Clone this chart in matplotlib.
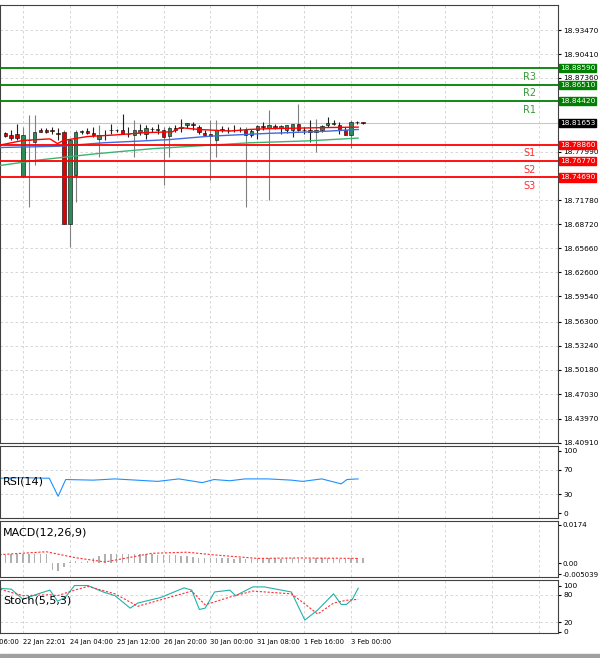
import numpy as np
import matplotlib
matplotlib.use("Agg")
import matplotlib.pyplot as plt

# ---- candles (H1) ----
opens = [18.8036, 18.8006, 18.8028, 18.7483, 18.7942, 18.7922, 18.8079, 18.8079, 18.8070, 18.8036,
         18.8049, 18.6880, 18.7496, 18.8049, 18.8062, 18.8036, 18.7964, 18.8006, 18.8079, 18.8079,
         18.8070, 18.8028, 18.8006, 18.8049, 18.8028, 18.8091, 18.8079, 18.8070, 18.7994, 18.8104,
         18.8104, 18.8134, 18.8155, 18.8113, 18.8036, 18.8019, 18.7942, 18.8079, 18.8079, 18.8079,
         18.8079, 18.8070, 18.8006, 18.8079, 18.8121, 18.8104, 18.8121, 18.8104, 18.8070, 18.8079,
         18.8155, 18.8079, 18.8070, 18.8049, 18.8079, 18.8138, 18.8155, 18.8138, 18.8079, 18.8006,
         18.8172, 18.8168]
highs = [18.8049, 18.8070, 18.8155, 18.8113, 18.8261, 18.8261, 18.8104, 18.8100, 18.8113, 18.8104,
         18.8070, 18.7964, 18.8070, 18.8079, 18.8104, 18.8113, 18.8134, 18.8070, 18.8155, 18.8091,
         18.8283, 18.8113, 18.8198, 18.8155, 18.8134, 18.8113, 18.8155, 18.8113, 18.8121, 18.8134,
         18.8219, 18.8164, 18.8176, 18.8134, 18.8070, 18.8198, 18.8198, 18.8121, 18.8113, 18.8134,
         18.8113, 18.8113, 18.8091, 18.8134, 18.8176, 18.8325, 18.8155, 18.8134, 18.8121, 18.8155,
         18.8410, 18.8113, 18.8198, 18.8219, 18.8134, 18.8240, 18.8198, 18.8176, 18.8113, 18.8198,
         18.8189, 18.8180]
lows = [18.7985, 18.7942, 18.7942, 18.7475, 18.7092, 18.7623, 18.8049, 18.8036, 18.8028, 18.7942,
        18.6880, 18.6583, 18.7156, 18.8019, 18.8019, 18.7985, 18.7730, 18.7942, 18.8019, 18.8049,
        18.8028, 18.7985, 18.7730, 18.8006, 18.7964, 18.8049, 18.8028, 18.7369, 18.7730, 18.8049,
        18.8049, 18.8104, 18.8070, 18.8028, 18.8006, 18.7441, 18.7730, 18.8049, 18.8036, 18.8049,
        18.8049, 18.7092, 18.7985, 18.7964, 18.8070, 18.7178, 18.8091, 18.8028, 18.8036, 18.7985,
        18.8049, 18.8028, 18.7922, 18.7794, 18.8049, 18.8113, 18.8134, 18.8028, 18.8006, 18.7849,
        18.8155, 18.8155]
closes = [18.7994, 18.7972, 18.7977, 18.8006, 18.7951, 18.8049, 18.8053, 18.8053, 18.8062, 18.8028,
          18.6880, 18.7942, 18.8049, 18.8057, 18.8036, 18.8006, 18.8006, 18.8006, 18.8070, 18.8070,
          18.8028, 18.8019, 18.8070, 18.8079, 18.8100, 18.8087, 18.8079, 18.7985, 18.8104, 18.8079,
          18.8113, 18.8164, 18.8142, 18.8049, 18.8015, 18.7994, 18.8079, 18.8087, 18.8070, 18.8070,
          18.8070, 18.8006, 18.8062, 18.8121, 18.8113, 18.8138, 18.8104, 18.8130, 18.8138, 18.8147,
          18.8079, 18.8070, 18.8049, 18.8079, 18.8130, 18.8164, 18.8159, 18.8079, 18.8006, 18.8172,
          18.8172, 18.8165]

# moving averages (knots: candle index, price)
ma_red_x = [-1, 3, 7.6, 8.9, 9.9, 14, 18.7, 24, 28.5, 29.8, 33, 38.3, 41.6, 44.8, 54.6, 60.2]
ma_red_y = [18.788, 18.794, 18.796, 18.790, 18.794, 18.799, 18.801, 18.804, 18.805, 18.8104,
            18.808, 18.806, 18.808, 18.809, 18.8104, 18.811]
ma_blue_x = [-1, 9, 16.7, 27.8, 35, 44.8, 54.6, 60.2]
ma_blue_y = [18.785, 18.7866, 18.791, 18.795, 18.7995, 18.803, 18.8057, 18.808]
ma_green_x = [-1, 5.6, 15.4, 25.2, 35, 41.6, 51.4, 60.2]
ma_green_y = [18.762, 18.769, 18.777, 18.7836, 18.788, 18.791, 18.7934, 18.797]

# pivot levels
level_names = ["R3", "R2", "R1", "S1", "S2", "S3"]
level_values = [18.88590, 18.86510, 18.84420, 18.78860, 18.76770, 18.74690]
last_price = 18.81653

price_ticks = [18.93470, 18.90410, 18.87360, 18.77990, 18.71780, 18.68720, 18.65660, 18.62600,
               18.59540, 18.56300, 18.53240, 18.50180, 18.47030, 18.43970, 18.40910]

# RSI(14)
rsi_x = [-1, 3, 7.5, 9, 10.3, 15, 18.7, 26, 29.6, 33.6, 35.6, 38.3, 40.9, 44.8, 48.8, 50.7, 54, 57.3, 58.3, 60.2]
rsi_y = [56, 57, 56, 27, 54, 53, 55, 51, 55, 49, 54, 52, 55, 55, 53, 51, 55, 47, 54, 55]

# MACD(12,26,9): histogram per candle and signal knots
macd_hist = [0.0039, 0.0040, 0.0040, 0.0041, 0.0042, 0.0043, 0.0043, 0.0042, -0.0030, -0.0035,
             -0.0015, 0.0008, 0.0010, 0.0005, 0.0012, 0.0025, 0.0033, 0.0040, 0.0041, 0.0042,
             0.0043, 0.0042, 0.0042, 0.0043, 0.0041, 0.0040, 0.0039, 0.0036, 0.0037, 0.0036,
             0.0034, 0.0031, 0.0027, 0.0024, 0.0023, 0.0022, 0.0023, 0.0023, 0.0022, 0.0021,
             0.0022, 0.0020, 0.0021, 0.0022, 0.0023, 0.0022, 0.0022, 0.0021, 0.0022, 0.0022,
             0.0021, 0.0020, 0.0021, 0.0022, 0.0022, 0.0022, 0.0021, 0.0020, 0.0021, 0.0022,
             0.0022, 0.0022]
macd_sig_x = [-1, 7, 12, 17, 25, 31, 36, 43, 50, 60.2]
macd_sig_y = [0.0039, 0.0052, 0.0025, 0.0006, 0.0045, 0.0050, 0.0037, 0.0022, 0.0024, 0.0022]

# Stochastic(5,5,3)
stoch_x = [-0.9, 1.04, 3, 5.6, 7.6, 8.9, 10.2, 11.8, 14.1, 16.7, 18.7, 21.3, 22.6, 26.5, 30.5,
           31.8, 33.1, 34.1, 35.7, 38.3, 39.3, 42.2, 44.2, 48.8, 51.1, 53.3, 56, 57.3, 58.2, 59.2, 60.2]
stoch_y = [94, 92, 70, 82, 90, 66, 74, 100, 100, 86, 78, 51, 62, 74, 95, 90, 48, 51, 86, 90, 78,
           97, 97, 86, 25, 47, 82, 59, 59, 70, 94]
stoch_sig_x = [-0.9, 3, 7.6, 8.9, 11.8, 14.1, 18.7, 22.6, 31.8, 34.1, 38.3, 42.2, 48.8, 51.1, 53.3, 56, 58.2, 60.2]
stoch_sig_y = [92, 78, 80, 78, 90, 98, 82, 55, 88, 58, 75, 88, 82, 60, 38, 62, 68, 70]

tick_idx = [-5, 3, 11, 19, 27, 35, 43, 51, 59]
tick_labels = ["22 Jan 06:00", "22 Jan 22:01", "24 Jan 04:00", "25 Jan 12:00", "26 Jan 20:00",
               "30 Jan 00:00", "31 Jan 08:00", "1 Feb 16:00", "3 Feb 00:00"]

W, H = 600, 658
fig = plt.figure(figsize=(6, 6.58), dpi=100)
XL = (-0.915, 94.3)
grid_x = np.arange(3, 95, 8)


def panel(top, bottom):
    ax = fig.add_axes([0, 1 - bottom / H, 558 / W, (bottom - top) / H])
    ax.set_xlim(*XL)
    ax.yaxis.tick_right()
    ax.tick_params(axis="y", labelsize=5.3, length=2, pad=2)
    ax.set_xticks([])
    for x in grid_x:
        ax.axvline(x, color="#d0d0d0", lw=0.6, ls=(0, (3, 3)), zorder=0)
    for s in ax.spines.values():
        s.set_color("#404040")
    return ax


# ---- main price panel ----
ax = panel(5, 443)
ax.set_ylim(18.4085, 18.9666)
ax.set_yticks(price_ticks)
ax.set_yticklabels([f"{v:.5f}" for v in price_ticks])
for v in price_ticks:
    ax.axhline(v, color="#d0d0d0", lw=0.6, ls=(0, (3, 3)), zorder=0)
ax.axhline(last_price, color="#c8c8c8", lw=0.8, zorder=1)

for i, (o, h, l, c) in enumerate(zip(opens, highs, lows, closes)):
    ax.vlines(i, l, h, color="#808080" if (h - l) > 0.03 else "#202020", lw=0.8, zorder=2)
    col = "#2e8b57" if c >= o else "#e00000"
    lo, hi = min(o, c), max(o, c)
    ax.bar(i, max(hi - lo, 0.0004), bottom=lo, width=0.6, color=col, edgecolor="black", lw=0.4, zorder=3)

ax.plot(ma_green_x, ma_green_y, color="#3cb371", lw=1.0, zorder=4)
ax.plot(ma_blue_x, ma_blue_y, color="#4169e1", lw=1.0, zorder=4)
ax.plot(ma_red_x, ma_red_y, color="#ff0000", lw=1.0, zorder=4)

for name, v in zip(level_names, level_values):
    col = "#008000" if name.startswith("R") else "#ff0000"
    ax.axhline(v, color=col, lw=1.3, zorder=5)
    ax.text(89.5, v - 0.0045, name, color="#3a9a3a" if name.startswith("R") else "#ff3030",
            fontsize=7, ha="center", va="top")
    ax.text(1.003, v, f"{v:.5f}", transform=ax.get_yaxis_transform(), fontsize=5.3, color="white",
            va="center", ha="left", bbox=dict(boxstyle="square,pad=0.15", fc=col, ec=col))
ax.text(1.003, last_price, f"{last_price:.5f}", transform=ax.get_yaxis_transform(), fontsize=5.3,
        color="white", va="center", ha="left", bbox=dict(boxstyle="square,pad=0.15", fc="black", ec="black"))

# ---- RSI ----
ax_rsi = panel(446, 518)
ax_rsi.set_ylim(-8, 108)
ax_rsi.set_yticks([0, 30, 70, 100])
for v in [30, 70]:
    ax_rsi.axhline(v, color="#d0d0d0", lw=0.6, ls=(0, (3, 3)), zorder=0)
ax_rsi.plot(rsi_x, rsi_y, color="#1e90ff", lw=0.8)
ax_rsi.text(0.005, 0.5, "RSI(14)", transform=ax_rsi.transAxes, fontsize=8, va="center")

# ---- MACD ----
ax_macd = panel(521, 577)
ax_macd.set_ylim(-0.0062, 0.0191)
ax_macd.set_yticks([-0.005039, 0.0, 0.0174])
ax_macd.set_yticklabels(["-0.005039", "0.00", "0.0174"])
ax_macd.tick_params(axis="y", labelsize=5, pad=1)
ax_macd.bar(range(len(macd_hist)), macd_hist, width=0.25, color="#b0b0b0")
ax_macd.plot(macd_sig_x, macd_sig_y, color="#ff3030", lw=0.8, ls=(0, (2, 1.5)))
ax_macd.text(0.005, 0.8, "MACD(12,26,9)", transform=ax_macd.transAxes, fontsize=8, va="center")

# ---- Stochastic ----
ax_st = panel(580, 633)
ax_st.set_ylim(-3, 112)
ax_st.set_yticks([0, 20, 80, 100])
for v in [20, 80]:
    ax_st.axhline(v, color="#d0d0d0", lw=0.6, ls=(0, (3, 3)), zorder=0)
ax_st.plot(stoch_x, stoch_y, color="#20b2aa", lw=0.8)
ax_st.plot(stoch_sig_x, stoch_sig_y, color="#ff3030", lw=0.8, ls=(0, (2, 1.5)))
ax_st.text(0.005, 0.62, "Stoch(5,5,3)", transform=ax_st.transAxes, fontsize=8, va="center")

# time labels (first one runs off the left edge, as in the terminal)
for x, lab in zip(tick_idx, tick_labels):
    ax_st.text(x, -0.12, lab, transform=ax_st.get_xaxis_transform(), fontsize=4.9,
               ha="left", va="top", clip_on=False)
fig.patches.append(plt.Rectangle((0, 0), 1, 4 / H, transform=fig.transFigure, color="#a0a0a0"))

fig.savefig("out.png", dpi=100)
